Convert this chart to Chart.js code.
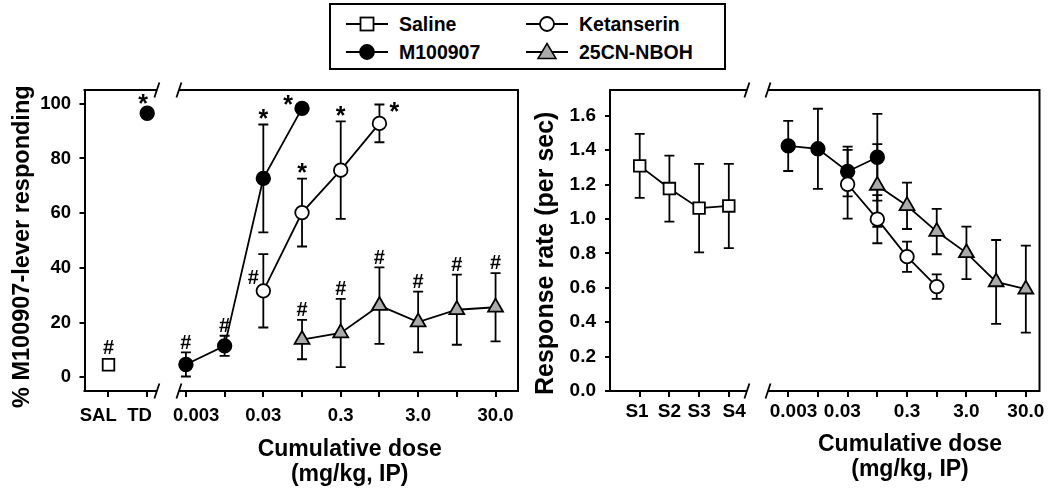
<!DOCTYPE html>
<html>
<head>
<meta charset="utf-8">
<script src="https://cdn.jsdelivr.net/npm/chart.js@4.4.0/dist/chart.umd.min.js"></script>
<style>
  body { margin: 0; background: #fff; width: 1050px; height: 493px; position: relative; overflow: hidden;
         font-family: "Liberation Sans", Arial, sans-serif; }
  #left { position: absolute; left: 0; top: 0; }
  #right { position: absolute; left: 530px; top: 0; }
  #legend { position: absolute; left: 329px; top: 3px; width: 397px; height: 67px; box-sizing: border-box;
            border: 2px solid #000; background: #fff; }
  .item { position: absolute; height: 22px; display: flex; align-items: center; font-weight: bold; font-size: 19.5px; }
  .item svg { margin-right: 11px; }
</style>
</head>
<body>
<canvas id="left" width="530" height="493"></canvas>
<canvas id="right" width="520" height="493"></canvas>
<div id="legend">
  <div class="item" style="left:15px;top:8px">
    <svg width="42" height="20"><line x1="0" y1="10" x2="42" y2="10" stroke="#000" stroke-width="1.8"/><rect x="14.5" y="3.5" width="13" height="13" fill="#fff" stroke="#000" stroke-width="1.8"/></svg>Saline</div>
  <div class="item" style="left:15px;top:36px">
    <svg width="42" height="20"><line x1="0" y1="10" x2="42" y2="10" stroke="#000" stroke-width="1.8"/><circle cx="21" cy="10" r="7" fill="#000" stroke="#000" stroke-width="1.8"/></svg>M100907</div>
  <div class="item" style="left:195px;top:8px">
    <svg width="42" height="20"><line x1="0" y1="10" x2="42" y2="10" stroke="#000" stroke-width="1.8"/><circle cx="21" cy="10" r="7" fill="#fff" stroke="#000" stroke-width="1.8"/></svg>Ketanserin</div>
  <div class="item" style="left:195px;top:36px">
    <svg width="42" height="20"><line x1="0" y1="10" x2="42" y2="10" stroke="#000" stroke-width="1.8"/><polygon points="21,1.5 30,16.5 12,16.5" fill="#aaa" stroke="#000" stroke-width="1.5"/></svg>25CN-NBOH</div>
</div>
<script>
// x categories
const doseLabels = ['0.003', '0.01', '0.03', '0.1', '0.3', '1', '3', '10', '30'];
const doseTickLabels = ['0.003', '', '0.03', '', '0.3', '', '3.0', '', '30.0'];
const controlLabels = ['SAL', 'TD'];
const sessionLabels = ['S1', 'S2', 'S3', 'S4'];
const pctTicks = [0, 20, 40, 60, 80, 100];
const rateTicks = [0, 0.2, 0.4, 0.6, 0.8, 1.0, 1.2, 1.4, 1.6];

// left panel: % M100907-lever responding (mean, SEM)
const salPct = [4.6];
const tdPct = [96.5];
const m100Doses = ['0.003', '0.01', '0.03', '0.1'];
const m100Pct = [4.7, 11.5, 72.7, 98.3];
const m100PctErr = [4.4, 3.7, 19.7, 0];
const ketDoses = ['0.03', '0.1', '0.3', '1'];
const ketPct = [31.6, 60.2, 75.7, 92.8];
const ketPctErr = [13.4, 12.4, 17.8, 6.9];
const cnDoses = ['0.1', '0.3', '1', '3', '10', '30'];
const cnPct = [13.8, 16.2, 26.2, 20.2, 24.7, 25.6];
const cnPctErr = [7.2, 12.5, 14.0, 11.1, 12.8, 12.5];

// significance marks
const salPctMarks = ['#'];
const tdPctMarks = ['*'];
const m100PctMarks = ['#', '#', '*', '*'];
const ketPctMarks = ['#', '*', '*', '*'];
const cnPctMarks = ['#', '#', '#', '#', '#', '#'];

// right panel: response rate (per sec)
const salRate = [1.309, 1.177, 1.063, 1.076];
const salRateErr = [0.186, 0.192, 0.257, 0.245];
const m100Rate = [1.425, 1.408, 1.276, 1.359];
const m100RateErr = [0.146, 0.233, 0.145, 0.252];
const ketRate = [1.202, 0.999, 0.781, 0.607];
const ketRateErr = [0.2, 0.14, 0.088, 0.071];
const cnRate = [1.195, 1.077, 0.927, 0.803, 0.634, 0.592];
const cnRateErr = [0.24, 0.135, 0.132, 0.153, 0.244, 0.253];

const FONT = '"Liberation Sans", Arial, sans-serif';
const GREY = '#aaaaaa';

// where a mark sits relative to its point, when not straight above the error bar
const markOffsets = { left: [-10, -14], nw: [-14, -9], nnw: [-4, -15], ne: [15, -17] };

function drawMark(ctx, s, cx, cy) {
  if (s === '*') {
    ctx.font = `bold 25px ${FONT}`;
    ctx.fillText(s, cx, cy + 0.55 * 25);
  } else {
    ctx.font = `bold 20px ${FONT}`;
    ctx.fillText(s, cx, cy + 0.36 * 20);
  }
}

const panelPlugin = {
  id: 'panel',
  beforeDatasetsDraw(chart) {
    const ctx = chart.ctx, y = chart.scales.y;
    ctx.save();
    ctx.strokeStyle = '#000';
    ctx.lineWidth = 1.8;
    chart.data.datasets.forEach((ds, i) => {
      if (!ds.err) return;
      chart.getDatasetMeta(i).data.forEach((pt, j) => {
        const e = ds.err[j];
        if (!e) return;
        const v = ds.data[j].y;
        const top = y.getPixelForValue(v + e), bot = y.getPixelForValue(v - e);
        ctx.beginPath();
        ctx.moveTo(pt.x, top); ctx.lineTo(pt.x, bot);
        ctx.moveTo(pt.x - 5, top); ctx.lineTo(pt.x + 5, top);
        ctx.moveTo(pt.x - 5, bot); ctx.lineTo(pt.x + 5, bot);
        ctx.stroke();
      });
    });
    ctx.restore();
  },
  afterDraw(chart, args, opts) {
    const { ctx, chartArea: a } = chart;
    const x = chart.scales.x, y = chart.scales.y;
    const b1 = x.getPixelForValue(opts.breakAt[0]);
    const b2 = x.getPixelForValue(opts.breakAt[1]);
    ctx.save();
    ctx.strokeStyle = '#000';
    ctx.lineWidth = 2;
    // box with the axis break
    ctx.beginPath();
    [a.top, a.bottom].forEach(yy => {
      ctx.moveTo(a.left - 1, yy); ctx.lineTo(b1, yy);
      ctx.moveTo(b2, yy); ctx.lineTo(a.right, yy);
    });
    ctx.moveTo(a.right, a.top - 1); ctx.lineTo(a.right, a.bottom + 1);
    ctx.stroke();
    ctx.lineWidth = 1.8;
    ctx.beginPath();
    [a.top, a.bottom].forEach(yy => [b1, b2].forEach(bx => {
      ctx.moveTo(bx - 2.5, yy + 7.5); ctx.lineTo(bx + 2.5, yy - 7.5);
    }));
    ctx.stroke();

    // significance marks
    ctx.fillStyle = '#000';
    ctx.textAlign = 'center';
    ctx.textBaseline = 'alphabetic';
    chart.data.datasets.forEach((ds, i) => {
      if (!ds.marks) return;
      chart.getDatasetMeta(i).data.forEach((pt, j) => {
        const s = ds.marks[j];
        if (!s) return;
        const e = ds.err ? ds.err[j] : 0;
        const v = ds.data[j].y;
        const place = ds.markAt ? ds.markAt[j] : 'up';
        let cx = pt.x, cy;
        if (place === 'up') {
          cy = (e ? y.getPixelForValue(v + e) : pt.y - 7) - 11;
        } else {
          cx += markOffsets[place][0];
          cy = pt.y + markOffsets[place][1];
        }
        drawMark(ctx, s, cx, cy);
      });
    });

    // axis titles
    ctx.textBaseline = 'middle';
    ctx.font = `bold 23px ${FONT}`;
    opts.xTitle.forEach((t, k) => ctx.fillText(t, opts.xTitleAt[0], opts.xTitleAt[1] + k * 25));
    ctx.translate(opts.yTitleAt[0], opts.yTitleAt[1]);
    ctx.rotate(-Math.PI / 2);
    ctx.font = `bold ${opts.yTitleSize}px ${FONT}`;
    ctx.fillText(opts.yTitle, 0, 0);
    ctx.restore();
  }
};

function series(label, xs, ys, style, extra) {
  return Object.assign({
    label,
    data: xs.map((xv, i) => ({ x: xv, y: ys[i] })),
    borderColor: '#000',
    borderWidth: 1.8,
    pointBorderColor: '#000',
    pointBorderWidth: 1.8,
    showLine: true,
    tension: 0
  }, style, extra || {});
}

function makePanel(id, datasets, o) {
  const tickFont = { family: FONT, size: o.tickSize, weight: 'bold' };
  return new Chart(document.getElementById(id), {
    type: 'line',
    data: { datasets },
    options: {
      responsive: false,
      animation: false,
      layout: { padding: { top: 90, right: o.padRight, left: 0, bottom: 0 } },
      plugins: {
        legend: { display: false },
        tooltip: { enabled: false },
        panel: o.panel
      },
      scales: {
        x: {
          type: 'linear',
          min: o.xMin,
          max: o.xMax,
          afterBuildTicks: s => { s.ticks = o.xTicks.map(v => ({ value: v })); },
          afterFit: s => { s.height = 102; },
          ticks: {
            autoSkip: false, maxRotation: 0, color: '#000', font: tickFont, padding: o.xPad,
            // a few labels sit a little off their tick, as in the original figure
            callback: v => {
              const t = o.xLabels[o.xTicks.indexOf(v)];
              const n = o.nudge[t] || 0;
              return n > 0 ? ' '.repeat(n) + t : t + ' '.repeat(-n);
            }
          },
          grid: { drawOnChartArea: false, tickLength: 6, lineWidth: 2, color: '#000' },
          border: { display: false }
        },
        y: {
          min: o.yMin,
          max: o.yMax,
          afterBuildTicks: s => { s.ticks = o.yTicks.map(v => ({ value: v })); },
          afterFit: s => { s.width = o.yWidth; },
          ticks: { color: '#000', font: tickFont, padding: o.yPad, callback: o.yFormat },
          grid: { drawOnChartArea: false, tickLength: 5, lineWidth: 2, color: '#000' },
          border: { display: true, color: '#000', width: 2 }
        }
      }
    },
    plugins: [panelPlugin]
  });
}

const squareStyle = { pointStyle: 'rect', pointRadius: 8.2, pointBackgroundColor: '#fff' };
const blackStyle = { pointStyle: 'circle', pointRadius: 6.8, pointBackgroundColor: '#000' };
const whiteStyle = { pointStyle: 'circle', pointRadius: 6.8, pointBackgroundColor: '#fff' };
const triStyle = { pointStyle: 'triangle', pointRadius: 8.6, pointBackgroundColor: GREY };

// left panel: SAL=0, TD=1, doses from 2
const leftDoseX = d => 2 + doseLabels.indexOf(d);
const leftTicks = [0, 1].concat(doseLabels.map((d, i) => 2 + i));
makePanel('left', [
  series('Saline', [0], salPct, squareStyle, { marks: salPctMarks }),
  series('M100907 TD', [1], tdPct, blackStyle, { marks: tdPctMarks, markAt: ['nnw'] }),
  series('Ketanserin', ketDoses.map(leftDoseX), ketPct, whiteStyle,
    { err: ketPctErr, marks: ketPctMarks, markAt: ['left', 'up', 'up', 'ne'] }),
  series('M100907', m100Doses.map(leftDoseX), m100Pct, blackStyle,
    { err: m100PctErr, marks: m100PctMarks, markAt: ['up', 'up', 'up', 'nw'] }),
  series('25CN-NBOH', cnDoses.map(leftDoseX), cnPct, triStyle, { err: cnPctErr, marks: cnPctMarks })
], {
  xMin: -0.62, xMax: 10.58, yMin: -5, yMax: 105,
  xTicks: leftTicks,
  xLabels: controlLabels.concat(doseTickLabels),
  nudge: { 'SAL': -4, 'TD': -3, '0.003': 4 },
  yTicks: pctTicks,
  yFormat: v => String(v),
  tickSize: 18.5, xPad: 8, yPad: 8.5, yWidth: 84.5, padRight: 12,
  panel: {
    breakAt: [1.25, 1.82],
    xTitle: ['Cumulative dose', '(mg/kg, IP)'], xTitleAt: [349.7, 450],
    yTitle: '% M100907-lever responding', yTitleAt: [22.5, 246.7], yTitleSize: 23.5
  }
});

// right panel: S1..S4 = 0..3, doses from 5
const rightDoseX = d => 5 + doseLabels.indexOf(d);
const rightTicks = [0, 1, 2, 3].concat(doseLabels.map((d, i) => 5 + i));
makePanel('right', [
  series('Saline', [0, 1, 2, 3], salRate, squareStyle, { err: salRateErr }),
  series('Ketanserin', ketDoses.map(rightDoseX), ketRate, whiteStyle, { err: ketRateErr }),
  series('M100907', m100Doses.map(rightDoseX), m100Rate, blackStyle, { err: m100RateErr }),
  series('25CN-NBOH', cnDoses.map(rightDoseX), cnRate, triStyle, { err: cnRateErr })
], {
  xMin: -1.0, xMax: 13.46, yMin: 0, yMax: 1.75,
  xTicks: rightTicks,
  xLabels: sessionLabels.concat(doseTickLabels),
  nudge: { 'S1': -1, 'S4': 2, '0.003': 2, '0.03': -2 },
  yTicks: rateTicks,
  yFormat: v => v.toFixed(1),
  tickSize: 19, xPad: 3, yPad: 9, yWidth: 80, padRight: 10.5,
  panel: {
    breakAt: [3.61, 4.32],
    xTitle: ['Cumulative dose', '(mg/kg, IP)'], xTitleAt: [380, 445],
    yTitle: 'Response rate (per sec)', yTitleAt: [16, 253.3], yTitleSize: 25
  }
});
</script>
</body>
</html>
